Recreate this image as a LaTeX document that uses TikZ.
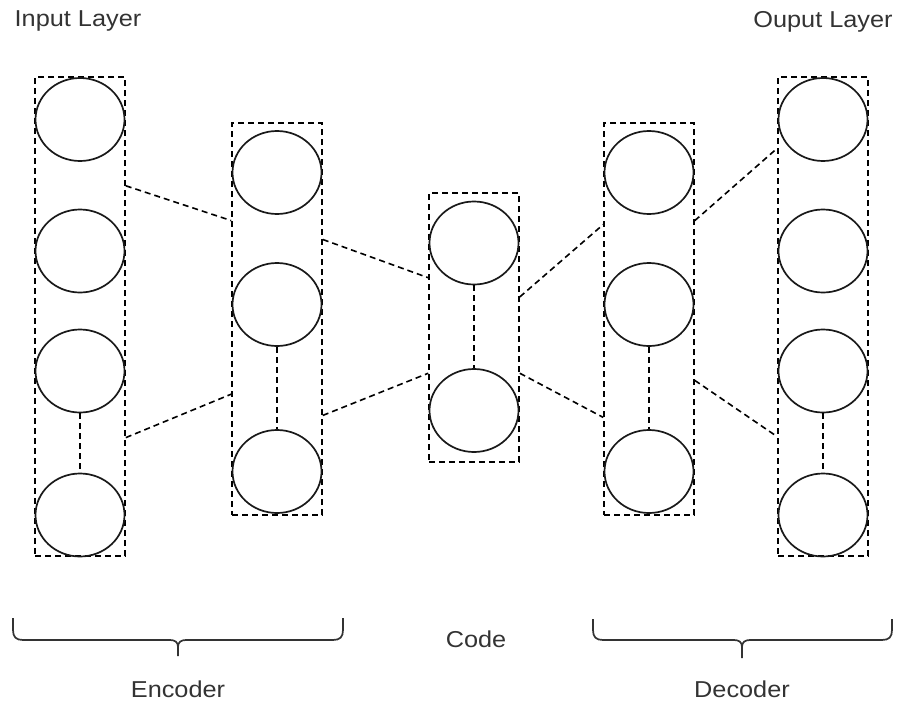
\documentclass[tikz,border=0pt]{standalone}
\usepackage{fontspec}
\newfontfamily\labelfont[FakeStretch=1.1]{Liberation Sans}
\usetikzlibrary{shapes.geometric,calc}

\tikzset{
  neuron/.style={ellipse, draw, line width=1.7pt, black!90, minimum width=89pt, minimum height=83pt, inner sep=0pt},
  layerbox/.style={draw, line width=1.6pt, dash pattern=on 6pt off 4pt, minimum width=90pt, inner sep=0pt},
  link/.style={line width=1.6pt, dash pattern=on 6pt off 4pt},
  bracket/.style={line width=1.7pt, black!80},
  caption/.style={font=\labelfont\fontsize{23}{27}\selectfont, text=black!80}
}

\begin{document}
\begin{tikzpicture}[x=1pt, y=-1pt]
\useasboundingbox (0,0) rectangle (898,702);

% Layer boxes
\node[layerbox, minimum height=479pt] (in)   at (80,316.5) {};
\node[layerbox, minimum height=392pt] (enc)  at (277,319) {};
\node[layerbox, minimum height=269pt] (code) at (474,327.5) {};
\node[layerbox, minimum height=392pt] (dec)  at (649,319) {};
\node[layerbox, minimum height=479pt] (out)  at (823,316.5) {};

% Neurons
\foreach \y [count=\i] in {119.5,251,371,515} {
  \node[neuron] (in\i)  at (80,\y) {};
  \node[neuron] (out\i) at (823,\y) {};
}
\foreach \y [count=\i] in {172.5,304.5,471.5} {
  \node[neuron] (enc\i) at (277,\y) {};
  \node[neuron] (dec\i) at (649,\y) {};
}
\node[neuron] (code1) at (474,243) {};
\node[neuron] (code2) at (474,410.5) {};

% Skipped neurons inside a layer
\draw[link] (in3) -- (in4);
\draw[link] (enc2) -- (enc3);
\draw[link] (code1) -- (code2);
\draw[link] (dec2) -- (dec3);
\draw[link] (out3) -- (out4);

% Links between layers
\draw[link] ($(in.north east)!.228!(in.south east)$) -- ($(enc.north west)!.25!(enc.south west)$);
\draw[link] ($(in.north east)!.752!(in.south east)$) -- ($(enc.north west)!.691!(enc.south west)$);
\draw[link] ($(enc.north east)!.298!(enc.south east)$) -- ($(code.north west)!.316!(code.south west)$);
\draw[link] ($(enc.north east)!.745!(enc.south east)$) -- ($(code.north west)!.669!(code.south west)$);
\draw[link] ($(code.north east)!.387!(code.south east)$) -- ($(dec.north west)!.26!(dec.south west)$);
\draw[link] ($(code.north east)!.669!(code.south east)$) -- ($(dec.north west)!.75!(dec.south west)$);
\draw[link] ($(dec.north east)!.25!(dec.south east)$) -- ($(out.north west)!.15!(out.south west)$);
\draw[link] ($(dec.north east)!.656!(dec.south east)$) -- ($(out.north west)!.75!(out.south west)$);

% Braces
\draw[bracket] (13,618) -- (13,630) .. controls (13,637) and (16,640) .. (23,640) -- (170,640)
  .. controls (175,640) and (178,642) .. (178,647) -- (178,656);
\draw[bracket] (343,618) -- (343,630) .. controls (343,637) and (340,640) .. (333,640) -- (186,640)
  .. controls (181,640) and (178,642) .. (178,647);
\draw[bracket] (593,619) -- (593,630) .. controls (593,637) and (596,640) .. (603,640) -- (734,640)
  .. controls (739,640) and (742,642) .. (742,647) -- (742,658);
\draw[bracket] (892,619) -- (892,630) .. controls (892,637) and (889,640) .. (882,640) -- (750,640)
  .. controls (745,640) and (742,642) .. (742,647);

% Labels
\node[caption] (inlabel)   at (78,21)   {Input Layer};
\node[caption] (outlabel)  at (823,22)  {Ouput Layer};
\node[caption] (codelabel) at (476,639) {Code};
\node[caption] (enclabel)  at (178,689) {Encoder};
\node[caption] (declabel)  at (742,689) {Decoder};
\end{tikzpicture}
\end{document}
